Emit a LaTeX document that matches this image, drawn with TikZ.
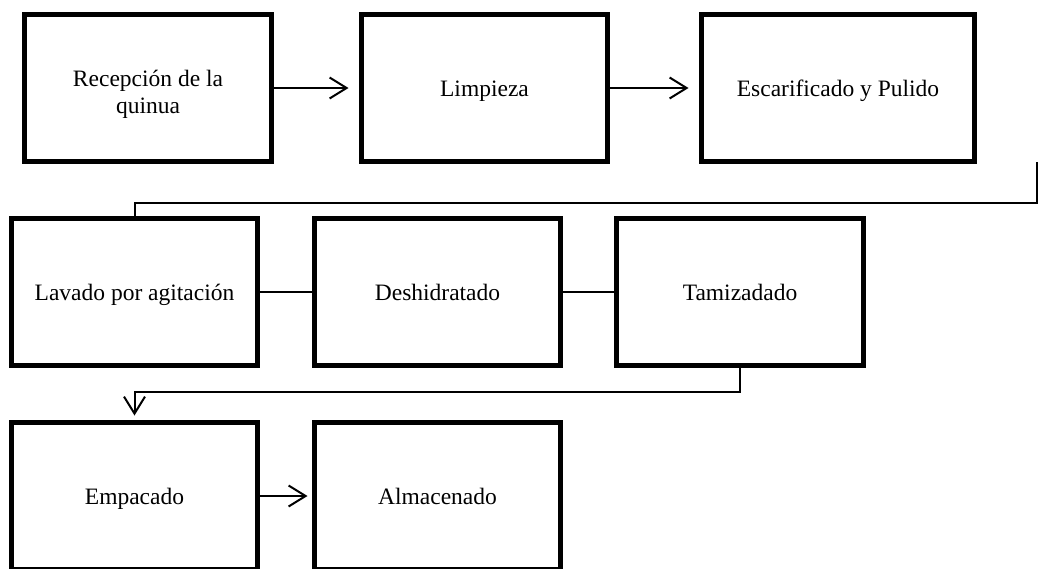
\documentclass[tikz,border=0pt]{standalone}
\usepackage{fontspec}
\setmainfont{Liberation Serif}
\usetikzlibrary{arrows.meta}
\begin{document}
\begin{tikzpicture}[x=1pt,y=-1pt,
  stepbox/.style={draw=black,line width=5pt,inner sep=0pt,outer sep=0pt,
    minimum height=147pt,align=center,text height=16pt,text depth=0pt,
    font=\fontsize{23.5}{27}\selectfont},
  conn/.style={draw=black,line width=2pt},
  arr/.style={conn,-{Straight Barb[length=17pt,width=21pt]}}]
\useasboundingbox (0,0) rectangle (1038,568);
\node[stepbox,minimum width=247pt,text height=50pt] (b1) at (148,88) {Recepción de la\\quinua};
\node[stepbox,minimum width=246pt] (b2) at (484.5,88) {Limpieza};
\node[stepbox,minimum width=273pt] (b3) at (838,88) {Escarificado y Pulido};
\node[stepbox,minimum width=246pt] (b4) at (134.5,292) {Lavado por agitación};
\node[stepbox,minimum width=246pt] (b5) at (437.5,292) {Deshidratado};
\node[stepbox,minimum width=247pt] (b6) at (740,292) {Tamizadado};
\node[stepbox,minimum width=246pt] (b7) at (134.5,496) {Empacado};
\node[stepbox,minimum width=246pt] (b8) at (437.5,496) {Almacenado};
\coordinate (c0) at (1037,162);
\draw[arr,shorten >=13pt] (b1.east) -- (b2.west);
\draw[arr,shorten >=13pt] (b2.east) -- (b3.west);
\draw[conn] (c0) -- (1037,203) -| (b4.north);
\draw[conn] (b4.east) -- (b5.west);
\draw[conn] (b5.east) -- (b6.west);
\draw[arr,shorten >=7pt] (b6.south) -- ++(0,26) -| (b7.north);
\draw[arr,shorten >=7pt] (b7.east) -- (b8.west);
\end{tikzpicture}
\end{document}
